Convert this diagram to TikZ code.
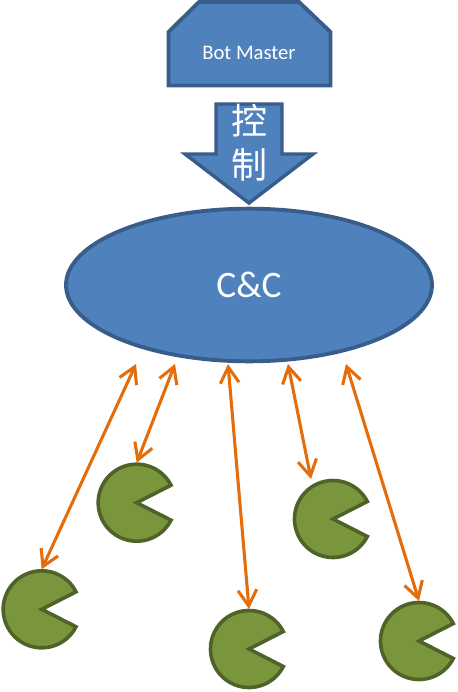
\documentclass[tikz,border=0pt]{standalone}
\usepackage{fontspec}
\setmainfont{Carlito}
\newfontfamily\cjk{Noto Sans CJK SC}
\usetikzlibrary{shapes.geometric, arrows.meta}
\definecolor{shapeblue}{RGB}{79, 129, 189}
\definecolor{edgeblue}{RGB}{56, 93, 138}
\definecolor{botgreen}{RGB}{122, 150, 60}
\definecolor{edgegreen}{RGB}{79, 98, 40}
\definecolor{linkorange}{RGB}{228, 108, 10}

\begin{document}
\begin{tikzpicture}[
  x=0.75pt, y=-0.75pt,
  blueshape/.style={draw=edgeblue, fill=shapeblue, line width=2.9pt, miter limit=10},
  botbody/.style={draw=edgegreen, fill=botgreen, line width=2.7pt},
  botnode/.style={circle, minimum size=60pt, inner sep=0pt, outer sep=0pt},
  link/.style={draw=linkorange, line width=2.3pt, {Straight Barb[length=12pt, width=14pt]}-{Straight Barb[length=12pt, width=14pt]}}
]
  \useasboundingbox (0, 0) rectangle (457, 692);

  % Master
  \draw[blueshape] (199, 2) -- (299, 2) -- (330.5, 32) -- (330.5, 85.5) -- (168.5, 85.5) -- (168.5, 32) -- cycle;
  \node[text=white, font=\fontsize{15.5}{18}\selectfont] (master) at (249, 53) {Bot Master};

  % Control arrow
  \draw[blueshape, line width=2.6pt] (216, 104) -- (282, 104) -- (282, 154) -- (313, 154) -- (249, 203) -- (185, 154) -- (216, 154) -- cycle;
  \node[text=white, font=\cjk\fontsize{27}{30}\selectfont, inner sep=0pt] (ctrla) at (249, 121) {控};
  \node[text=white, font=\cjk\fontsize{27}{30}\selectfont, inner sep=0pt] (ctrlb) at (249, 165) {制};

  % C&C
  \node[ellipse, blueshape, minimum width=274.5pt, minimum height=114.5pt, text=white, font=\fontsize{28}{32}\selectfont] (cc) at (249, 285) {C\&C};

  % Bots
  \foreach \n/\px/\py in {1/41.7/609.3, 2/136.7/502.7, 3/249/649, 4/333/519, 5/419/641} {
    \node[botnode] (bot\n) at (\px, \py) {};
    \draw[botbody] (\px, \py) -- ++(27:38.5) arc[start angle=27, end angle=333, radius=38.5] -- cycle;
  }

  % Ends under C&C
  \coordinate (up1) at (136, 364);
  \coordinate (up2) at (175, 364);
  \coordinate (up3) at (228, 364);
  \coordinate (up4) at (288, 364);
  \coordinate (up5) at (346, 364);
  \coordinate (low4) at (311, 479);

  % Links
  \draw[link] (up1) -- (bot1.north);
  \draw[link] (up2) -- (bot2.north);
  \draw[link] (up3) -- (bot3.north);
  \draw[link] (up4) -- (low4);
  \draw[link] (up5) -- (bot5.north);
\end{tikzpicture}
\end{document}
